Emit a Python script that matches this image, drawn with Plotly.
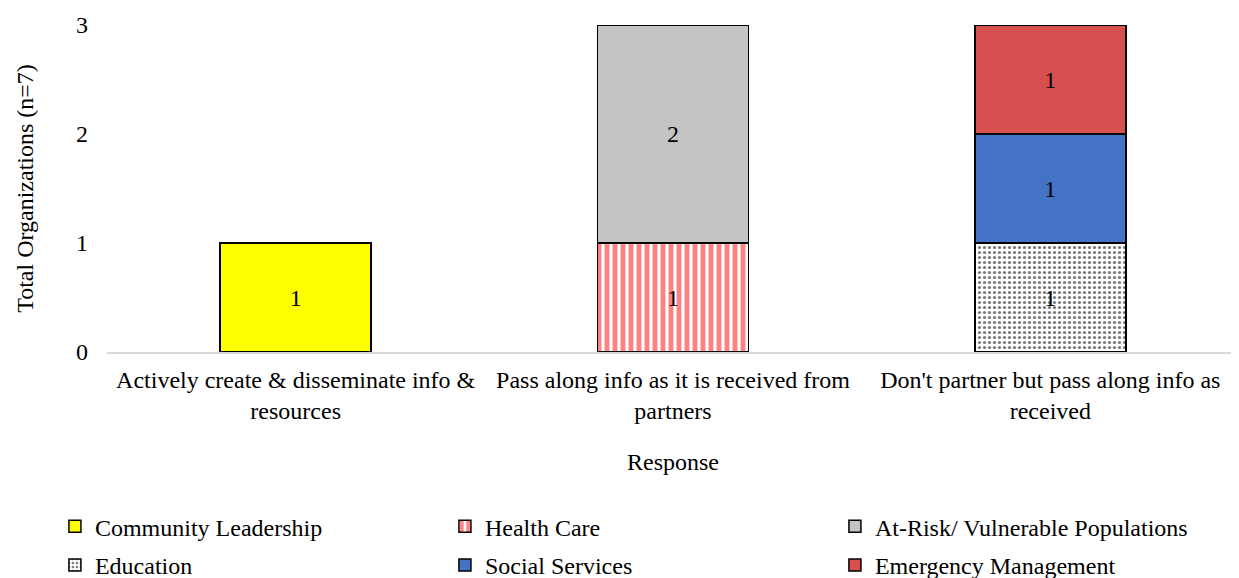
import plotly.graph_objects as go

categories = ["Actively create & disseminate info &<br>resources",
              "Pass along info as it is received from<br>partners",
              "Don't partner but pass along info as<br>received"]
community_leadership = [1, None, None]
health_care = [None, 1, None]
at_risk = [None, 2, None]
education = [None, None, 1]
social_services = [None, None, 1]
emergency_management = [None, None, 1]

FONT = "Liberation Serif, Times New Roman, serif"
FS = 24
line = dict(color="black", width=1.5)

series = [
    ("Community Leadership", community_leadership, dict(color="#ffff00", line=line), "legend"),
    ("Health Care", health_care, dict(color="white", line=line,
        pattern=dict(shape="|", fgcolor="#ff8080", bgcolor="white", fgopacity=1, size=8, solidity=0.6)), "legend"),
    ("At-Risk/ Vulnerable Populations", at_risk, dict(color="#c4c4c4", line=line), "legend"),
    ("Education", education, dict(color="white", line=line,
        pattern=dict(shape=".", fgcolor="#7a7a7a", bgcolor="white", fgopacity=1, size=5, solidity=0.33)), "legend2"),
    ("Social Services", social_services, dict(color="#4472c4", line=line), "legend2"),
    ("Emergency Management", emergency_management, dict(color="#d65050", line=line), "legend2"),
]

fig = go.Figure()
for name, vals, marker, lg in series:
    fig.add_trace(go.Bar(
        name=name, x=categories, y=vals, marker=marker, legend=lg,
        text=[v if v is not None else "" for v in vals],
        textposition="inside", insidetextanchor="middle",
        textfont=dict(family=FONT, size=FS, color="black"),
    ))

legend_common = dict(orientation="h", x=-0.046, xanchor="left", yanchor="top",
                     entrywidth=345, entrywidthmode="pixels", traceorder="normal",
                     font=dict(family=FONT, size=FS, color="black"), itemwidth=30,
                     bgcolor="rgba(0,0,0,0)")

fig.update_layout(
    barmode="stack", bargap=0.6,
    width=1231, height=570,
    margin=dict(l=99, r=0, t=17, b=226, autoexpand=False),
    plot_bgcolor="white", paper_bgcolor="white",
    font=dict(family=FONT, size=FS, color="#000000"),
    showlegend=True,
    legend=dict(legend_common, y=-0.465),
    legend2=dict(legend_common, y=-0.584),
    uniformtext=dict(minsize=10, mode="show"),
)
fig.update_xaxes(showline=True, linecolor="#d9d9d9", linewidth=1.5, ticks="",
                 ticklabelstandoff=5,
                 title=dict(text="Response", font=dict(family=FONT, size=FS), standoff=30),
                 tickfont=dict(family=FONT, size=FS, color="black"))
fig.update_yaxes(range=[0, 3], dtick=1, showgrid=False, zeroline=False, showline=False,
                 ticks="", ticklabelstandoff=18,
                 title=dict(text="Total Organizations (n=7)", font=dict(family=FONT, size=FS), standoff=35),
                 tickfont=dict(family=FONT, size=FS, color="black"))

fig.write_html("out.html")
